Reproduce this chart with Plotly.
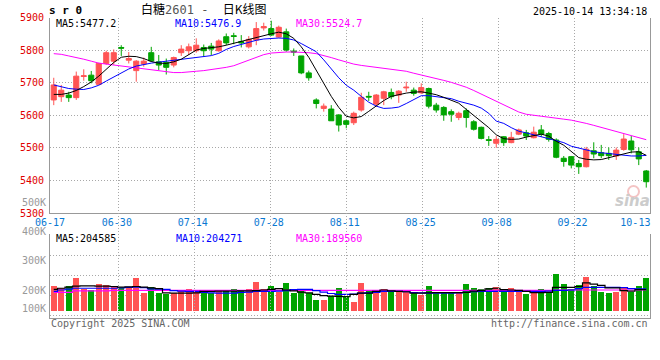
import plotly.graph_objects as go

# ---------------- data ----------------
dates = ["06-17","06-18","06-19","06-20","06-23","06-24","06-25","06-26","06-27","06-30",
         "07-01","07-02","07-03","07-04","07-07","07-08","07-09","07-10","07-11","07-14",
         "07-15","07-16","07-17","07-18","07-21","07-22","07-23","07-24","07-25","07-28",
         "07-29","07-30","07-31","08-01","08-04","08-05","08-06","08-07","08-08","08-11",
         "08-12","08-13","08-14","08-15","08-18","08-19","08-20","08-21","08-22","08-25",
         "08-26","08-27","08-28","08-29","09-01","09-02","09-03","09-04","09-05","09-08",
         "09-09","09-10","09-11","09-12","09-15","09-16","09-17","09-18","09-19","09-22",
         "09-23","09-24","09-25","09-26","09-29","09-30","10-09","10-10","10-13","10-14"]

open_ = [5647,5657,5662,5654,5719,5723,5695,5759,5766,5808,
         5769,5737,5757,5792,5764,5762,5754,5792,5798,5798,
         5808,5812,5798,5841,5844,5826,5810,5831,5868,5866,
         5840,5856,5797,5782,5730,5647,5621,5619,5601,5583,
         5577,5616,5658,5634,5652,5670,5662,5684,5677,5669,
         5682,5631,5624,5611,5593,5614,5580,5563,5525,5514,
         5534,5516,5542,5546,5531,5555,5544,5524,5468,5473,
         5452,5442,5491,5485,5483,5475,5495,5521,5488,5429]
high = [5715,5693,5672,5734,5741,5736,5761,5798,5802,5815,
        5794,5769,5777,5810,5785,5774,5780,5815,5820,5836,
        5817,5822,5833,5851,5853,5846,5843,5886,5884,5890,
        5875,5866,5805,5782,5737,5652,5636,5631,5603,5587,
        5611,5669,5672,5665,5675,5682,5677,5703,5685,5698,
        5685,5638,5628,5618,5611,5621,5585,5565,5536,5536,
        5536,5549,5559,5555,5565,5570,5549,5529,5475,5475,
        5463,5503,5517,5509,5501,5501,5542,5536,5501,5432]
low = [5631,5641,5641,5647,5706,5698,5693,5755,5755,5782,
       5759,5703,5749,5764,5739,5725,5747,5782,5785,5792,
       5780,5785,5795,5815,5818,5808,5805,5815,5860,5843,
       5838,5795,5782,5726,5706,5621,5611,5583,5550,5560,
       5570,5611,5644,5628,5631,5649,5638,5672,5660,5665,
       5621,5608,5583,5580,5585,5562,5553,5526,5506,5500,
       5506,5514,5539,5524,5529,5534,5519,5468,5442,5437,
       5420,5440,5468,5468,5463,5463,5491,5483,5447,5378]
close = [5693,5677,5654,5720,5721,5706,5759,5792,5792,5806,
         5774,5766,5766,5767,5754,5747,5777,5803,5810,5815,
         5798,5803,5828,5822,5842,5822,5833,5866,5872,5846,
         5870,5800,5794,5730,5715,5636,5628,5583,5570,5572,
         5606,5655,5656,5662,5672,5657,5674,5686,5667,5685,
         5628,5616,5601,5603,5606,5593,5557,5529,5523,5526,
         5516,5532,5555,5536,5548,5542,5526,5471,5458,5447,
         5442,5496,5481,5476,5476,5493,5527,5494,5466,5396]

ma5 = [5664,5664,5668,5676,5688,5702,5720,5742,5762,5778,
       5781,5780,5774,5765,5760,5759,5764,5772,5786,5800,
       5805,5807,5810,5815,5821,5827,5834,5840,5845,5850,
       5855,5850,5836,5810,5778,5737,5700,5658,5624,5597,
       5592,5596,5612,5628,5645,5658,5664,5668,5671,5672,
       5668,5663,5655,5646,5637,5618,5600,5582,5562,5540,
       5528,5526,5527,5533,5537,5542,5536,5520,5508,5490,
       5470,5465,5463,5464,5470,5475,5483,5487,5488,5477]
ma10 = [5693,5687,5682,5680,5679,5684,5692,5705,5718,5731,
        5742,5751,5756,5760,5763,5766,5768,5771,5774,5777,
        5780,5783,5790,5802,5811,5818,5824,5830,5834,5836,
        5837,5836,5831,5820,5808,5795,5770,5742,5715,5692,
        5677,5658,5640,5628,5621,5622,5625,5636,5648,5660,
        5660,5657,5655,5651,5643,5637,5631,5622,5606,5582,
        5575,5562,5551,5546,5540,5535,5530,5522,5516,5505,
        5499,5493,5488,5485,5482,5479,5476,5475,5475,5477]
ma30 = [5789,5787,5782,5778,5772,5766,5760,5757,5754,5753,
        5750,5747,5744,5741,5738,5734,5731,5731,5732,5735,
        5737,5740,5742,5747,5752,5760,5769,5777,5786,5791,
        5793,5794,5794,5794,5792,5789,5784,5777,5770,5763,
        5757,5753,5750,5747,5745,5742,5739,5735,5729,5724,
        5719,5714,5707,5701,5694,5686,5676,5665,5654,5643,
        5632,5621,5610,5603,5599,5597,5594,5590,5588,5585,
        5581,5575,5569,5563,5557,5550,5545,5538,5533,5525]

# volume in thousands of lots
volume = [213.7,205.8,213.7,241.0,202.4,200.0,220.5,217.0,213.7,207.9,
          207.9,241.0,190.8,210.2,190.8,186.3,190.8,200.0,203.4,200.0,
          190.8,190.8,200.0,200.0,203.4,200.0,203.4,227.3,203.4,213.7,
          193.0,223.9,190.8,203.4,190.8,165.9,165.9,179.5,206.8,179.5,
          160.0,223.9,200.0,200.0,203.4,200.0,193.0,193.0,188.7,183.0,
          213.7,193.0,193.0,190.8,190.8,220.5,206.8,203.4,206.8,210.2,
          200.0,206.8,200.0,186.3,193.0,203.4,193.0,254.6,220.5,203.4,
          217.0,244.4,213.7,193.0,189.8,193.0,206.8,193.0,213.7,241.0]
vol_ma5 = [202,206,210,213,214,214,213,213,212,210,
           211,212,210,207,205,190,189,189,189,190,
           195,195,196,196,196,197,197,198,200,202,
           205,200,197,193,190,185,181,179,178,177,
           185,189,189,195,200,197,195,194,189,189,
           190,191,191,191,191,192,196,198,204,206,
           201,200,199,195,191,191,192,209,209,209,
           212,224,220,216,207,207,198,196,201,201]
vol_ma10 = [195,200,203,206,206,206,206,206,206,207,
            209,210,208,204,203,202,198,196,195,195,
            192,190,189,189,189,192,193,195,195,195,
            196,198,201,202,202,198,193,188,185,185,
            186,189,190,192,195,195,195,194,191,190,
            189,189,189,189,190,192,194,195,195,195,
            195,195,195,195,195,195,196,199,199,200,
            205,209,209,209,209,209,208,205,204,204]
vol_ma30 = [192,192,192,197,197,197,197,197,199,199,
            199,199,199,199,199,199,199,199,199,199,
            199,199,199,199,199,199,199,199,199,199,
            199,199,199,199,199,199,199,199,199,199,
            199,199,199,199,199,199,199,199,199,199,
            199,199,199,199,199,199,199,199,199,199,
            199,199,199,199,199,199,199,200,200,200,
            200,200,200,200,200,200,200,200,200,200]

price_ticks = [5300, 5400, 5500, 5600, 5700, 5800, 5900]
vol_tick_values = [200, 300, 400, 500]
vol_tick_labels = ["200K", "300K", "400K", "500K"]
label_dates = ["06-17", "06-30", "07-14", "07-28", "08-11", "08-25", "09-08", "09-22", "10-13"]
grid_dates = ["06-30", "07-14", "07-28", "08-11", "08-25", "09-08", "09-22"]

title_code = "s r 0"
title_name = "白糖"
title_num = "2601"
title_rest = "日K线图"
timestamp = "2025-10-14 13:34:18"
price_legend = ["MA5:5477.2", "MA10:5476.9", "MA30:5524.7"]
vol_legend = ["MA5:204585", "MA10:204271", "MA30:189560"]

# ---------------- styling ----------------
W, H = 660, 360
ML, MR = 50, 10
UP, DOWN = "#ff5454", "#00a400"
C_MA5, C_MA10, C_MA30 = "#000000", "#0000ff", "#ff00ff"
GRID = "#a8a8a8"
DOT = "1px,2px"
FRAME = "#999999"
MONO = "DejaVu Sans Mono"
CJK = "Noto Sans CJK SC"

def py(px):  # pixel row -> paper fraction
    return 1 - px / H

def pxx(px):  # pixel column -> paper fraction
    return (px - ML) / (W - ML - MR)

N = len(dates)
idx = list(range(N))
# Sina places its date grid on an N-1 spaced scale
grid_x = [dates.index(d) * N / (N - 1) - 0.5 for d in grid_dates]
label_x = [min(max(dates.index(d) * N / (N - 1) - 0.7, -0.5), N - 0.5 - 1.95) for d in label_dates]

PRICE_DOM = [py(213), py(17.5)]
VOL_TOP_PX, VOL_BOT_PX, VOL_BAR_BASE_PX, VOL_LABEL_TOP_PX = 234, 318, 311, 195
K_PER_PX = 100 / 29.3
VOL_AT_BOTTOM = 300 - (VOL_BOT_PX - 260.7) * K_PER_PX
VOL_AT_TOP = 300 + (260.7 - VOL_TOP_PX) * K_PER_PX
VOL_BASE = 300 - (VOL_BAR_BASE_PX - 260.7) * K_PER_PX
VOL_LABEL_TOP = 300 + (260.7 - VOL_LABEL_TOP_PX) * K_PER_PX

up_flags = [c >= o for o, c in zip(open_, close)]
bar_colors = [UP if u else DOWN for u in up_flags]

fig = go.Figure()

fig.add_trace(go.Candlestick(
    x=idx, open=open_, high=high, low=low, close=close,
    increasing=dict(line=dict(color=UP, width=1), fillcolor=UP),
    decreasing=dict(line=dict(color=DOWN, width=1), fillcolor=DOWN),
    whiskerwidth=0, xaxis="x", yaxis="y", showlegend=False, hoverinfo="skip"))
for ser, col in [(ma30, C_MA30), (ma10, C_MA10), (ma5, C_MA5)]:
    fig.add_trace(go.Scatter(x=idx, y=ser, mode="lines", line=dict(color=col, width=1),
                             xaxis="x", yaxis="y", showlegend=False, hoverinfo="skip"))

fig.add_trace(go.Bar(x=idx, y=[v - VOL_BASE for v in volume], base=VOL_BASE,
                     marker=dict(color=bar_colors, line=dict(width=0)), width=0.8,
                     xaxis="x2", yaxis="y2", showlegend=False, hoverinfo="skip"))
for ser, col in [(vol_ma30, C_MA30), (vol_ma10, C_MA10), (vol_ma5, C_MA5)]:
    fig.add_trace(go.Scatter(x=idx, y=ser, mode="lines", line=dict(color=col, width=1.2, shape="hvh"),
                             xaxis="x2", yaxis="y2", showlegend=False, hoverinfo="skip"))
# carrier for the volume label axis
fig.add_trace(go.Scatter(x=[None], y=[None], xaxis="x2", yaxis="y3", showlegend=False, hoverinfo="skip"))

minor_grid = dict(tickmode="array", tickvals=grid_x, showgrid=True, gridcolor=GRID,
                  griddash=DOT, gridwidth=1, ticks="")

fig.update_layout(
    width=W, height=H, margin=dict(l=ML, r=MR, t=0, b=0, autoexpand=False),
    paper_bgcolor="white", plot_bgcolor="rgba(0,0,0,0)",
    hovermode=False, showlegend=False, boxgap=0.2, boxgroupgap=0.15, bargap=0,
    font=dict(family=MONO, size=10, color="#000"),
    xaxis=dict(domain=[0, 1], anchor="y", range=[-0.5, N - 0.5], showgrid=False, zeroline=False,
               tickmode="array", tickvals=label_x, ticktext=label_dates, ticks="",
               tickfont=dict(family=MONO, size=10, color="#0a78d2"), automargin=False,
               showline=True, linecolor=FRAME, linewidth=1,
               rangeslider=dict(visible=False), minor=minor_grid, fixedrange=True),
    yaxis=dict(domain=PRICE_DOM, anchor="x", range=[price_ticks[0], price_ticks[-1]],
               tickmode="array", tickvals=price_ticks, ticks="", automargin=False,
               tickfont=dict(family=MONO, size=10, color="#e00000"),
               showgrid=True, gridcolor=GRID, griddash=DOT, gridwidth=1, zeroline=False,
               showline=True, linecolor=FRAME, linewidth=1, mirror=True, ticklabelstandoff=3),
    xaxis2=dict(domain=[0, 1], anchor="y2", matches="x", showticklabels=False, showgrid=False,
                zeroline=False, ticks="", showline=True, linecolor=FRAME, linewidth=1,
                minor=minor_grid, automargin=False),
    yaxis2=dict(domain=[py(VOL_BOT_PX), py(VOL_TOP_PX)], anchor="x2",
                range=[VOL_AT_BOTTOM, VOL_AT_TOP], tickmode="linear", automargin=False,
                tick0=VOL_AT_TOP - K_PER_PX, dtick=20 * K_PER_PX, showticklabels=False, ticks="",
                showgrid=True, gridcolor=GRID, griddash=DOT, gridwidth=1, zeroline=False,
                showline=True, linecolor=FRAME, linewidth=1, mirror=True),
    yaxis3=dict(domain=[py(VOL_BOT_PX), py(VOL_LABEL_TOP_PX)], anchor="x2",
                range=[VOL_AT_BOTTOM, VOL_LABEL_TOP], tickmode="array", automargin=False,
                tickvals=[VOL_BASE + 8] + vol_tick_values, ticktext=["100K"] + vol_tick_labels,
                ticks="", showgrid=False, zeroline=False, showline=False,
                tickfont=dict(family=MONO, size=10, color="#999999"), ticklabelstandoff=3),
)

def note(xp, yp, text, anchor="left", **font):
    f = dict(family=MONO, size=10, color="#000")
    f.update(font)
    return dict(x=pxx(xp), y=py(yp), xref="paper", yref="paper", text=text, showarrow=False,
                xanchor=anchor, yanchor="middle", font=f)

ann = []
ann.append(note(47, 10, "<b>" + title_code + "</b>", size=11))
ann.append(note(139, 8.5, title_name + "<span style='font-family:DejaVu Sans Mono;color:#555'>" +
                title_num + " -&nbsp;&nbsp;</span>" + title_rest, family=CJK, size=12))
ann.append(note(649, 11.5, timestamp, anchor="right"))
for txt, col, xp in zip(price_legend, [C_MA5, C_MA10, C_MA30], [54, 173, 294]):
    ann.append(note(xp, 23.5, txt, color=col))
for txt, col, xp in zip(vol_legend, [C_MA5, C_MA10, C_MA30], [54, 174, 294]):
    ann.append(note(xp, 238.5, txt, color=col))
ann.append(note(49, 323.5, "Copyright 2025 SINA.COM", color="#666"))
ann.append(note(650, 323.5, "http://finance.sina.com.cn", anchor="right", color="#666"))
ann.append(note(652, 201, "<b><i>sina</i></b>", anchor="right", family="DejaVu Sans", size=15, color="#cccccc"))
fig.update_layout(annotations=ann)

# faint pink eye of the watermark
fig.add_shape(type="circle", xref="paper", yref="paper",
              x0=pxx(628), x1=pxx(639), y0=py(197), y1=py(186),
              line=dict(color="#f4c4c4", width=2), fillcolor="rgba(0,0,0,0)")

fig.write_html("out.html", config={"displayModeBar": False, "staticPlot": True},
               post_script="document.body.style.margin='0px';")
